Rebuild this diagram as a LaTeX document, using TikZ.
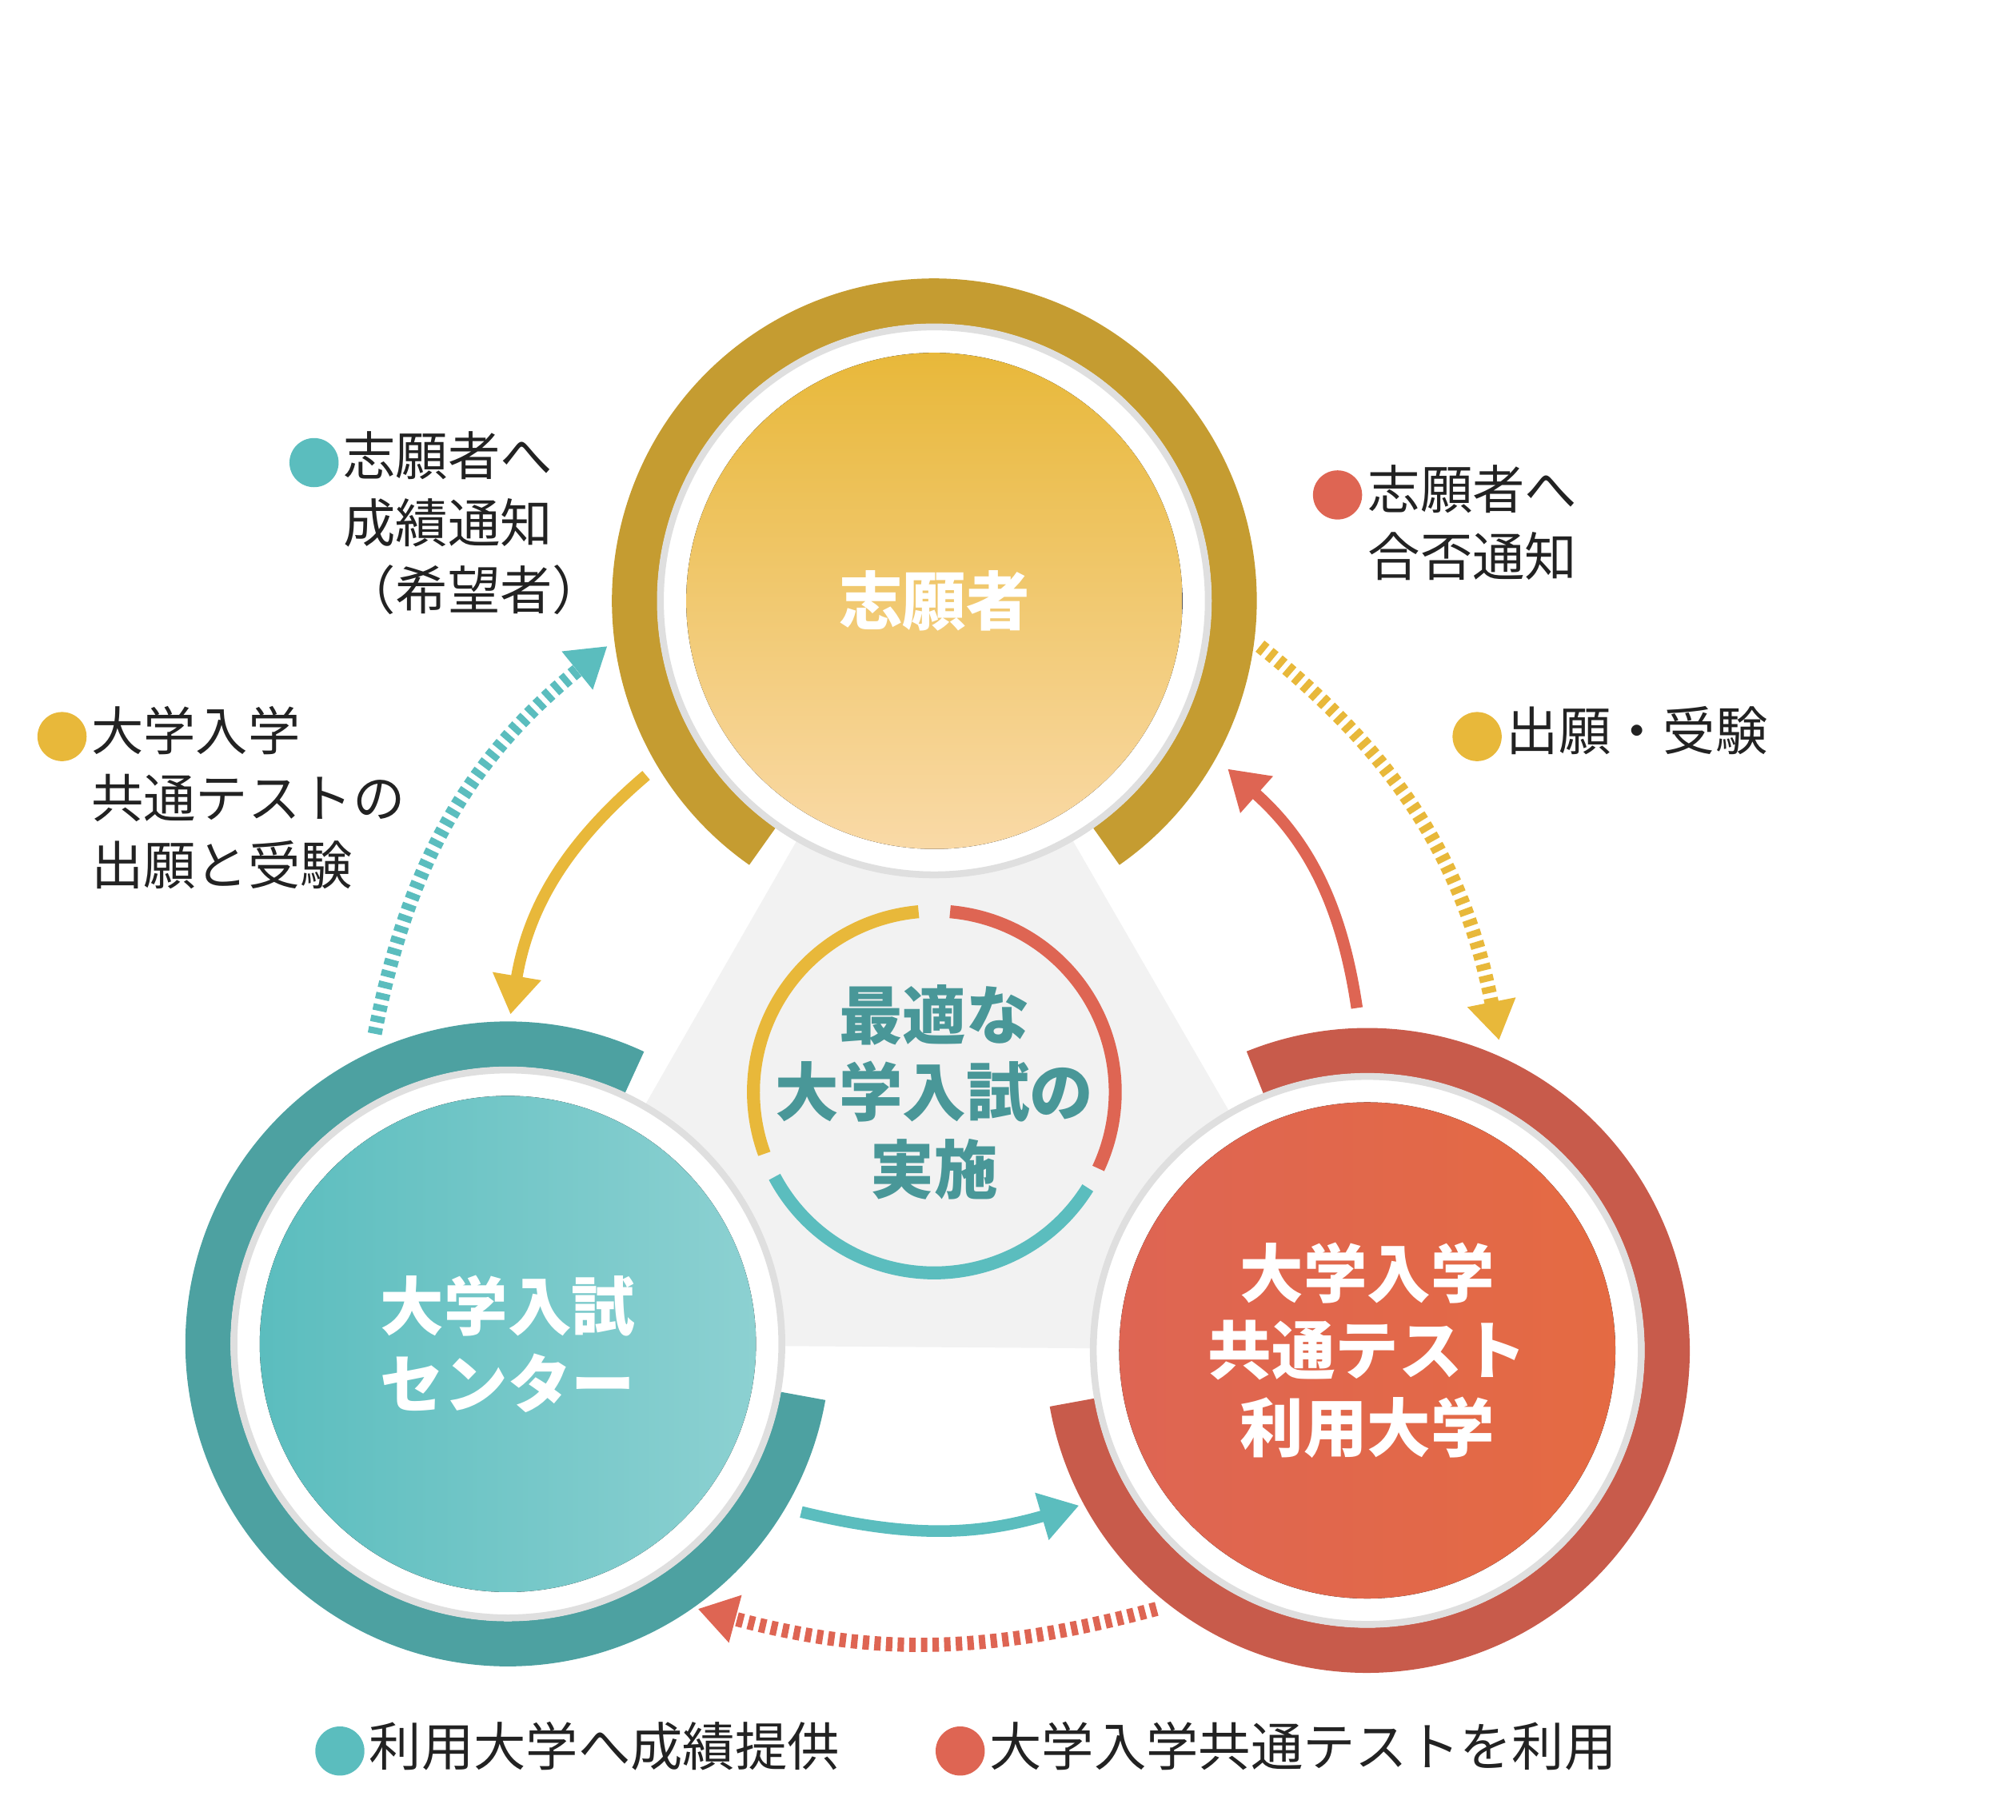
\documentclass[tikz,border=0pt]{standalone}
\usepackage{fontspec}
\setmainfont{Noto Sans CJK JP}
\usetikzlibrary{arrows.meta}
\definecolor{cYel}{HTML}{E8B83A}
\definecolor{cTeal}{HTML}{5BBDBE}
\definecolor{cRed}{HTML}{DE6553}
\definecolor{cTxt}{HTML}{222222}
\tikzset{
  ringpart/.style={line width=0.35cm},
  whitedisk/.style={fill=white, draw=gray!25, line width=1.5pt},
  bigtext/.style={text=white, font=\bfseries\fontsize{14}{17}\selectfont, align=center},
  labeltext/.style={text=cTxt, font=\fontsize{11.5}{14.8}\selectfont, align=left, anchor=north west, inner sep=0pt},
  bullet/.style={circle, inner sep=0pt, minimum size=0.38cm},
  solidarrow/.style={line width=0.09cm, -{Triangle[length=0.3cm,width=0.36cm]}},
  dotarrow/.style={line width=0.11cm, dash pattern=on 0.05cm off 0.04cm, -{Triangle[length=0.3cm,width=0.36cm]}}
}
\begin{document}
\begin{tikzpicture}[x=0.01cm,y=0.01cm]
\useasboundingbox (0,0) rectangle (1560,1408);
% background triangle
\fill[gray!10] (723,943) -- (393,368) -- (1058,363) -- cycle;
% outer rings
\draw[ringpart, cYel!85!black] (723,943) ++(-55:232) arc[start angle=-55, end angle=235, radius=232];
\draw[ringpart, cTeal!85!black] (393,368) ++(65:232) arc[start angle=65, end angle=350, radius=232];
\draw[ringpart, cRed!90!black] (1058,363) ++(190:232) arc[start angle=190, end angle=472, radius=232];
% disks
\foreach \c in {(723,943),(393,368),(1058,363)}
  \fill[whitedisk] \c circle[radius=212];
\fill[top color=cYel, bottom color=cYel!60!orange!40!white] (723,943) circle[radius=192];
\fill[left color=cTeal, right color=cTeal!70!white] (393,368) circle[radius=192];
\fill[left color=cRed, right color=cRed!80!orange] (1058,363) circle[radius=192];
\node[bigtext] (appl) at (723,943) {志願者};
\node[bigtext] (center) at (393,368) {大学入試\\センター};
\node[bigtext] (univ) at (1058,363) {大学入学\\共通テスト\\利用大学};
% middle ring
\draw[line width=0.1cm, cYel] (723,563) ++(95:140) arc[start angle=95, end angle=200, radius=140];
\draw[line width=0.1cm, cRed] (723,563) ++(85:140) arc[start angle=85, end angle=-25, radius=140];
\draw[line width=0.1cm, cTeal] (723,563) ++(-32:140) arc[start angle=-32, end angle=-152, radius=140];
\node[text=cTeal!80!black, font=\bfseries\fontsize{14}{17}\selectfont, align=center] (goal) at (723,563) {最適な\\大学入試の\\実施};
% connectors
\coordinate (a1) at (500,808); \coordinate (a2) at (395,623);
\coordinate (b1) at (290,608); \coordinate (b2) at (470,908);
\coordinate (c1) at (1050,628); \coordinate (c2) at (950,813);
\coordinate (d1) at (975,908); \coordinate (d2) at (1160,603);
\coordinate (e1) at (620,238); \coordinate (e2) at (835,243);
\coordinate (f1) at (895,163); \coordinate (f2) at (540,163);
\draw[solidarrow, cYel] (a1) to[bend right=20] (a2);
\draw[dotarrow, cTeal] (b1) to[bend left=20] (b2);
\draw[solidarrow, cRed] (c1) to[bend right=20] (c2);
\draw[dotarrow, cYel] (d1) to[bend left=20] (d2);
\draw[solidarrow, cTeal] (e1) to[bend right=15] (e2);
\draw[dotarrow, cRed] (f1) to[bend left=15] (f2);
% labels
\node[bullet, fill=cTeal] (bt1) at (243,1050) {};
\node[labeltext] (lt1) at (265,1075) {志願者へ\\成績通知\\（希望者）};
\node[bullet, fill=cYel] (by1) at (48,838) {};
\node[labeltext] (ly1) at (70,862) {大学入学\\共通テストの\\出願と受験};
\node[bullet, fill=cRed] (br1) at (1035,1025) {};
\node[labeltext] (lr1) at (1058,1049) {志願者へ\\合否通知};
\node[bullet, fill=cYel] (by2) at (1143,838) {};
\node[labeltext] (ly2) at (1165,862) {出願・受験};
\node[bullet, fill=cTeal] (bt2) at (263,53) {};
\node[labeltext] (lt2) at (285,76) {利用大学へ成績提供};
\node[bullet, fill=cRed] (br2) at (743,53) {};
\node[labeltext] (lr2) at (765,76) {大学入学共通テストを利用};
\end{tikzpicture}
\end{document}
